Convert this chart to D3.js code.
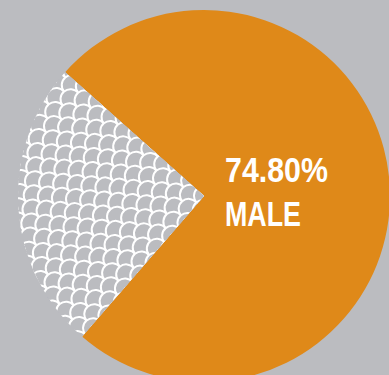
<!DOCTYPE html>
<html>
<head>
<meta charset="utf-8">
<script src="https://cdn.jsdelivr.net/npm/d3@7"></script>
<style>
  html, body { margin: 0; padding: 0; background: #bbbcc0; }
  svg { display: block; }
</style>
</head>
<body>
<svg id="chart" width="389" height="375"></svg>
<script>
// Share of respondents by gender
const groups = ["MALE", "FEMALE"];
const shares = [74.8, 25.2];
const labelLines = ["74.80%", "MALE"];

const W = 389, H = 375;
const cx = 204, cy = 196, R = 186;
const BG = "#bbbcc0";

const svg = d3.select("#chart");
svg.append("rect").attr("width", W).attr("height", H).attr("fill", BG);

const color = d3.scaleOrdinal().domain(groups).range(["#df8919", BG]);

// rotate the pie so the smaller slice opens towards the left
const start = -48.3 * Math.PI / 180;
const pie = d3.pie().sort(null).value(d => d.v)
  .startAngle(start).endAngle(start + 2 * Math.PI);
const arcs = pie(groups.map((g, i) => ({ g, v: shares[i] })));
const arc = d3.arc().innerRadius(0).outerRadius(R);

const defs = svg.append("defs");
defs.append("clipPath").attr("id", "femaleClip")
  .append("path").attr("d", arc(arcs[1]));

const g = svg.append("g").attr("transform", `translate(${cx},${cy})`);

g.selectAll("path.slice").data(arcs).join("path")
  .attr("class", "slice")
  .attr("d", arc)
  .attr("fill", d => color(d.data.g));

// fish-scale texture inside the female slice
const tex = g.append("g").attr("clip-path", "url(#femaleClip)")
  .append("g").attr("transform", "rotate(-40)");
const s = 10, rowH = 10;
const cells = [];
for (let row = -24; row <= 24; row++) {
  for (let col = -12; col <= 12; col++) {
    cells.push({ x: col * 2 * s + (Math.abs(row) % 2 ? s : 0), y: row * rowH });
  }
}
tex.selectAll("path").data(cells).join("path")
  .attr("d", d => `M${d.x - s},${d.y + rowH * 2} L${d.x - s},${d.y} A${s},${s} 0 0 1 ${d.x + s},${d.y} L${d.x + s},${d.y + rowH * 2}Z`)
  .attr("fill", BG)
  .attr("stroke", "#fff")
  .attr("stroke-width", 2);

// value label, condensed to the width of a narrow display face
const lineWidths = [103, 76];
svg.append("g").selectAll("text").data(labelLines).join("text")
  .attr("x", 225)
  .attr("y", (d, i) => 182 + i * 44)
  .attr("fill", "#fff")
  .attr("font-family", "'Liberation Sans', Arial, sans-serif")
  .attr("font-weight", "bold")
  .attr("font-size", 35)
  .attr("textLength", (d, i) => lineWidths[i])
  .attr("lengthAdjust", "spacingAndGlyphs")
  .text(d => d);
</script>
</body>
</html>
